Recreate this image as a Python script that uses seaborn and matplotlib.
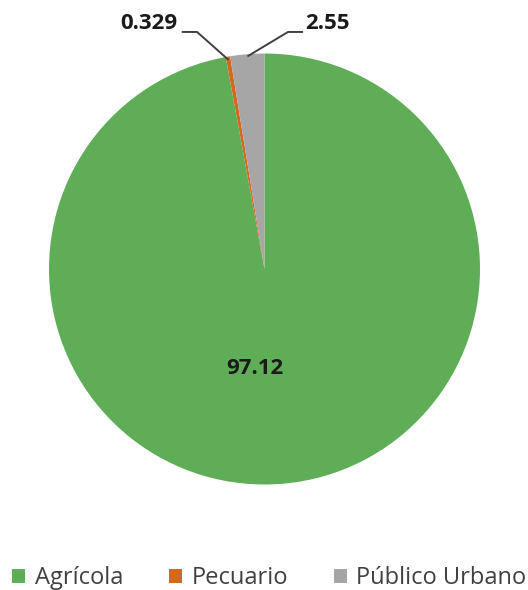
import numpy as np
import matplotlib
matplotlib.use("Agg")
import matplotlib.pyplot as plt
import seaborn as sns
from matplotlib.patches import Patch

categories = ["Agrícola", "Pecuario", "Público Urbano"]
values = [97.12, 0.329, 2.55]
value_labels = ["97.12", "0.329", "2.55"]
colors = ["#5FAE57", "#D2691E", "#A6A6A6"]

sns.set_theme(style="white")
plt.rcParams['font.family'] = ['Open Sans', 'DejaVu Sans']

fig = plt.figure(figsize=(5.28, 5.90), dpi=100)
ax = fig.add_axes([0.0928, 0.1788, 0.8163, 0.7305])

wedges, _ = ax.pie(values, colors=colors, startangle=90, counterclock=False,
                   radius=1.0, wedgeprops=dict(linewidth=0))
ax.set_xlim(-1, 1)
ax.set_ylim(-1, 1)
ax.set_aspect('equal')
ax.axis('off')


def mid_point(w, r=1.0):
    ang = np.deg2rad((w.theta1 + w.theta2) / 2)
    return r * np.cos(ang), r * np.sin(ang)


label_kw = dict(fontsize=16, fontweight='bold', color='#1a1a1a')

# big slice label inside
ax.text(-0.045, -0.46, value_labels[0], ha='center', va='center', **label_kw)

# small slices: outside labels with leader lines
line_color = '#404040'
x1, y1 = mid_point(wedges[1], 0.985)
ax.plot([-0.384, -0.313, x1], [1.10, 1.10, y1], color=line_color, lw=1.4,
        clip_on=False, solid_capstyle='butt')
ax.text(-0.405, 1.14, value_labels[1], ha='right', va='center', **label_kw)

x2, y2 = mid_point(wedges[2], 0.99)
ax.plot([0.179, 0.109, x2], [1.10, 1.10, y2], color=line_color, lw=1.4,
        clip_on=False, solid_capstyle='butt')
ax.text(0.19, 1.14, value_labels[2], ha='left', va='center', **label_kw)

handles = [Patch(facecolor=c, edgecolor='none') for c in colors]
fig.legend(handles, categories, loc='center', bbox_to_anchor=(0.51, 0.02),
           ncol=3, frameon=False, fontsize=17, handlelength=0.55,
           handleheight=0.55, handletextpad=0.4, columnspacing=1.95,
           labelcolor='#404040', borderaxespad=0, borderpad=0)

fig.savefig("out.png", dpi=100)
